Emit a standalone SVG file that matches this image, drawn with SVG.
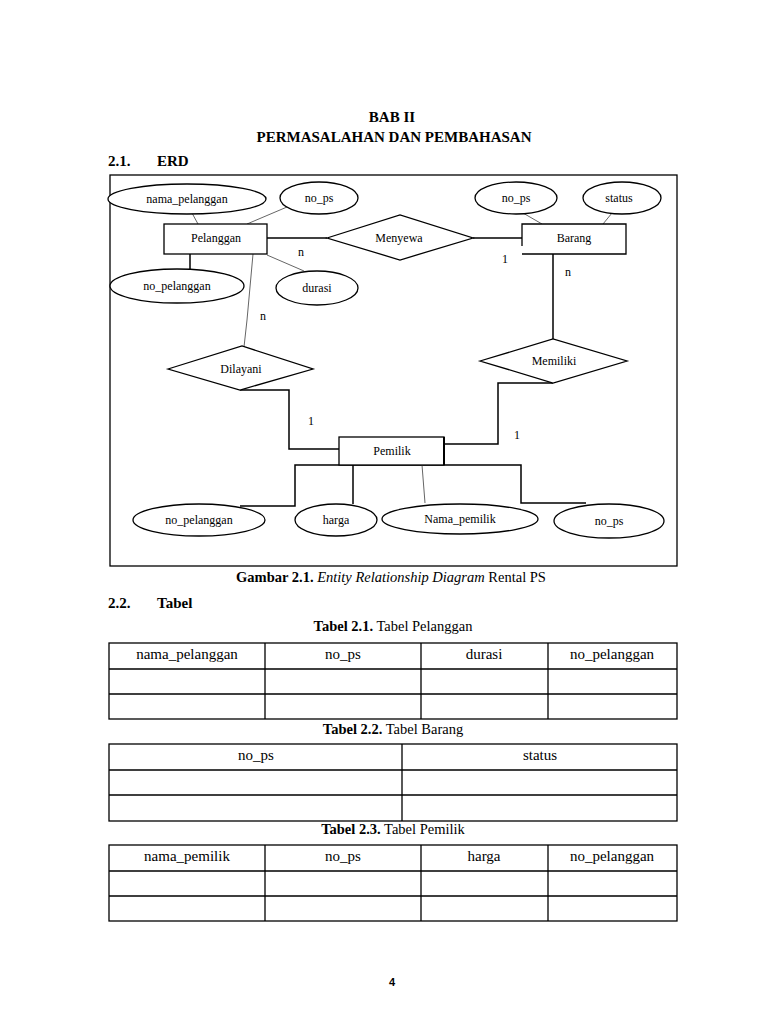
<svg xmlns="http://www.w3.org/2000/svg" width="768" height="1024" viewBox="0 0 768 1024">
<style>
text{font-family:"Liberation Serif","Times New Roman",serif;fill:#000}
.h{font-weight:bold;font-size:15px}
.cap{font-size:14.5px}
.e{font-size:12px;text-anchor:middle}
.lbl{font-size:12px}
.th{font-size:15px;text-anchor:middle}
.shape{fill:#fff;stroke:#000;stroke-width:1.3}
.thick{fill:none;stroke:#000;stroke-width:1.5}
.thin{fill:none;stroke:#666;stroke-width:1}
.tbl{fill:none;stroke:#000;stroke-width:1.3}
</style>
<rect width="768" height="1024" fill="#fff"/>

<g id="headings">
<text class="h" x="392" y="122" text-anchor="middle">BAB II</text>
<text class="h" x="394" y="142" text-anchor="middle">PERMASALAHAN DAN PEMBAHASAN</text>
<text class="h" x="108" y="166">2.1.</text>
<text class="h" x="157" y="166">ERD</text>
</g>

<rect id="frame" x="110" y="175" width="567" height="391" fill="none" stroke="#000" stroke-width="1.3"/>

<g id="connectors">
<line class="thin" x1="192" y1="213" x2="198" y2="224"/>
<line class="thin" x1="287" y1="207" x2="247" y2="224"/>
<line class="thick" x1="267" y1="238" x2="327" y2="238"/>
<line class="thin" x1="267" y1="255" x2="304" y2="271"/>
<line class="thick" x1="190" y1="254" x2="190" y2="269"/>
<polyline class="thin" points="253,254 247,320 244,347"/>
<line class="thick" x1="473" y1="238" x2="522" y2="238"/>
<line class="thin" x1="523" y1="213" x2="542" y2="224"/>
<line class="thin" x1="612" y1="213" x2="603" y2="224"/>
<line class="thick" x1="553" y1="254" x2="553" y2="339"/>
<polyline class="thick" points="553,383 498,383 498,444 444,444"/>
<polyline class="thick" points="240,390 289,390 289,449 339,449"/>
<polyline class="thick" points="240,506 295,506 295,465 521,465 521,503 586,503"/>
<line class="thick" x1="353" y1="465" x2="353" y2="504"/>
<line class="thin" x1="422" y1="465" x2="425" y2="503"/>
<text class="lbl" x="298" y="256">n</text>
<text class="lbl" x="260" y="320">n</text>
<text class="lbl" x="502" y="263">1</text>
<text class="lbl" x="565" y="276">n</text>
<text class="lbl" x="308" y="425">1</text>
<text class="lbl" x="514" y="439">1</text>
</g>

<g id="nama_pelanggan">
<ellipse class="shape" cx="187" cy="199" rx="79" ry="15"/>
<text class="e" x="187" y="203">nama_pelanggan</text>
</g>
<g id="no_ps_pelanggan">
<ellipse class="shape" cx="319" cy="198" rx="39" ry="16"/>
<text class="e" x="319" y="202">no_ps</text>
</g>
<g id="pelanggan">
<rect class="shape" x="164" y="224" width="103" height="30"/>
<text class="e" x="216" y="242">Pelanggan</text>
</g>
<g id="no_pelanggan_top">
<ellipse class="shape" cx="177" cy="286" rx="67" ry="17"/>
<text class="e" x="177" y="290">no_pelanggan</text>
</g>
<g id="durasi">
<ellipse class="shape" cx="317" cy="288" rx="41" ry="17"/>
<text class="e" x="317" y="292">durasi</text>
</g>
<g id="menyewa">
<polygon class="shape" points="327,238 400,215 473,238 400,260"/>
<text class="e" x="399" y="242">Menyewa</text>
</g>
<g id="no_ps_barang">
<ellipse class="shape" cx="516" cy="198" rx="41" ry="16"/>
<text class="e" x="516" y="202">no_ps</text>
</g>
<g id="status">
<ellipse class="shape" cx="622" cy="198" rx="39" ry="16"/>
<text class="e" x="619" y="202">status</text>
</g>
<g id="barang">
<rect x="522" y="224" width="104" height="30" fill="#fff"/>
<path class="shape" fill="none" d="M522,246 V224 H626 V254 H522"/>
<text class="e" x="574" y="242">Barang</text>
</g>
<g id="dilayani">
<polygon class="shape" points="168,369 242,346 313,369 240,390"/>
<text class="e" x="241" y="373">Dilayani</text>
</g>
<g id="memiliki">
<polygon class="shape" points="480,361 553,339 627,361 553,383"/>
<text class="e" x="554" y="365">Memiliki</text>
</g>
<g id="pemilik">
<rect class="shape" x="339" y="437" width="105" height="28"/>
<line x1="444" y1="437" x2="444" y2="465" stroke="#000" stroke-width="2"/>
<text class="e" x="392" y="455">Pemilik</text>
</g>
<g id="no_pelanggan_bottom">
<ellipse class="shape" cx="199" cy="520" rx="66" ry="16"/>
<text class="e" x="199" y="524">no_pelanggan</text>
</g>
<g id="harga">
<ellipse class="shape" cx="336" cy="520" rx="41" ry="16"/>
<text class="e" x="336" y="524">harga</text>
</g>
<g id="nama_pemilik">
<ellipse class="shape" cx="460" cy="519" rx="78" ry="15"/>
<text class="e" x="460" y="523">Nama_pemilik</text>
</g>
<g id="no_ps_pemilik">
<ellipse class="shape" cx="609" cy="521" rx="55" ry="17"/>
<text class="e" x="609" y="525">no_ps</text>
</g>

<g id="captions">
<text class="cap" x="391" y="582" text-anchor="middle"><tspan font-weight="bold">Gambar 2.1.</tspan> <tspan font-style="italic">Entity Relationship Diagram</tspan> Rental PS</text>
<text class="h" x="108" y="608">2.2.</text>
<text class="h" x="157" y="608">Tabel</text>
<text class="cap" x="393" y="631" text-anchor="middle"><tspan font-weight="bold">Tabel 2.1.</tspan> Tabel Pelanggan</text>
<text class="cap" x="393" y="734" text-anchor="middle"><tspan font-weight="bold">Tabel 2.2.</tspan> Tabel Barang</text>
<text class="cap" x="393" y="834" text-anchor="middle"><tspan font-weight="bold">Tabel 2.3.</tspan> Tabel Pemilik</text>
</g>

<g id="tabel_pelanggan">
<rect class="tbl" x="109" y="643" width="568" height="76"/>
<path class="tbl" d="M109,669 H677 M109,694 H677 M265,643 V719 M421,643 V719 M548,643 V719"/>
<text class="th" x="187" y="659">nama_pelanggan</text>
<text class="th" x="343" y="659">no_ps</text>
<text class="th" x="484" y="659">durasi</text>
<text class="th" x="612" y="659">no_pelanggan</text>
</g>

<g id="tabel_barang">
<rect class="tbl" x="109" y="744" width="568" height="77"/>
<path class="tbl" d="M109,770 H677 M109,795 H677 M402,744 V821"/>
<text class="th" x="256" y="760">no_ps</text>
<text class="th" x="540" y="760">status</text>
</g>

<g id="tabel_pemilik">
<rect class="tbl" x="109" y="845" width="568" height="76"/>
<path class="tbl" d="M109,871 H677 M109,896 H677 M265,845 V921 M421,845 V921 M548,845 V921"/>
<text class="th" x="187" y="861">nama_pemilik</text>
<text class="th" x="343" y="861">no_ps</text>
<text class="th" x="484" y="861">harga</text>
<text class="th" x="612" y="861">no_pelanggan</text>
</g>

<text x="392" y="986" text-anchor="middle" style="font-family:'Liberation Sans',Arial,sans-serif;font-weight:bold;font-size:11px">4</text>
</svg>
